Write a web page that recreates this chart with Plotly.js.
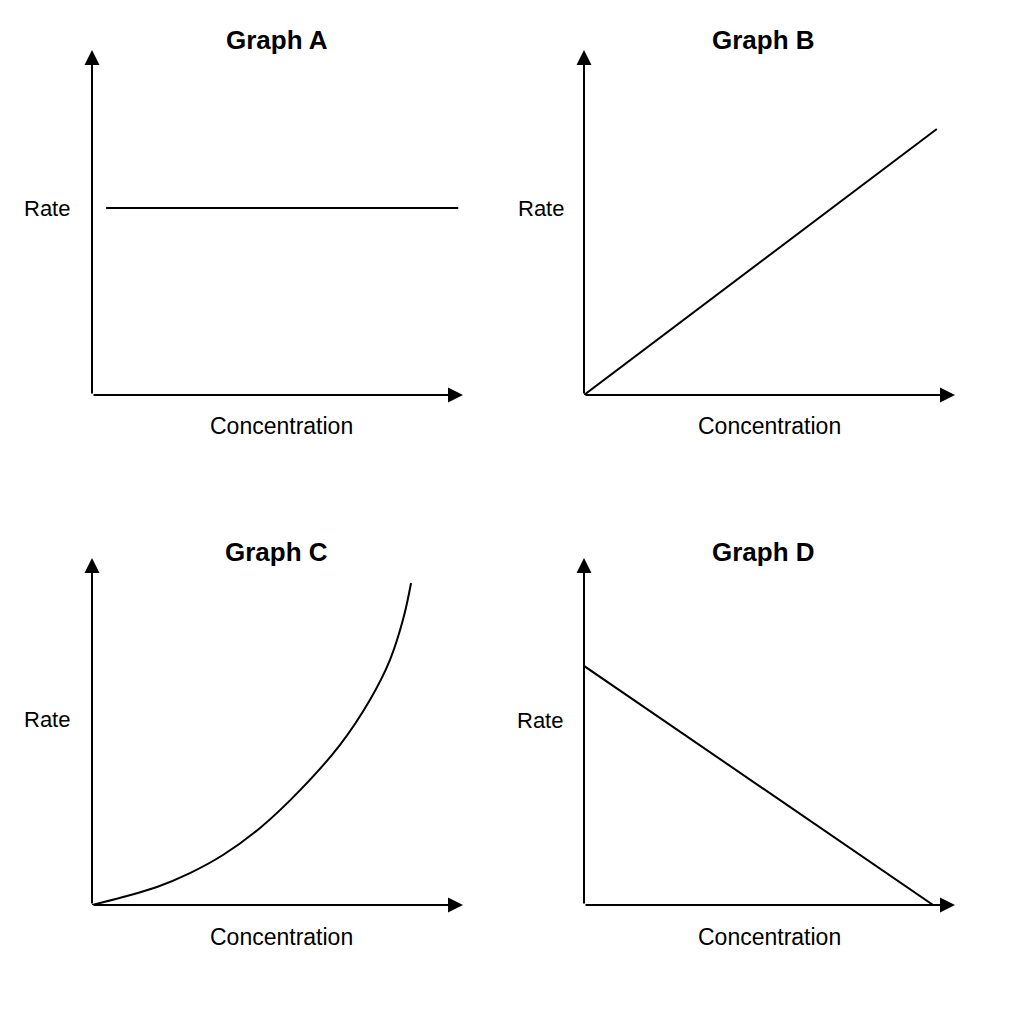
<!DOCTYPE html>
<html>
<head>
<meta charset="utf-8">
<script src="https://cdn.plot.ly/plotly-3.0.1.min.js"></script>
<style>
  html, body { margin: 0; padding: 0; background: #ffffff; }
  #chart { width: 1024px; height: 1024px; }
</style>
</head>
<body>
<div id="chart"></div>
<script>
// values, axes run 0..100 from origin to arrow tip
var panelNames = ['Graph A', 'Graph B', 'Graph C', 'Graph D'];
var xLabel = 'Concentration';
var yLabel = 'Rate';

var graphA_x = [3.8, 98.7];
var graphA_y = [54.2, 54.2];

var graphB_x = [0, 95.1];
var graphB_y = [0, 77.1];

var graphC_x = [0, 8.4, 17.5, 26.4, 35.3, 45.3, 56.1, 66.8, 74.9, 80.3, 83.8, 86.0];
var graphC_y = [0, 2.3, 5.2, 9.2, 14.4, 22.2, 33.1, 46.1, 59.1, 70.6, 82.1, 92.8];

var graphD_x = [0, 94.1];
var graphD_y = [68.9, 0];

var lineStyle = { color: '#000000', width: 2 };

var traces = [
    { x: graphA_x, y: graphA_y, xaxis: 'x', yaxis: 'y', mode: 'lines', line: lineStyle },
    { x: graphB_x, y: graphB_y, xaxis: 'x2', yaxis: 'y2', mode: 'lines', line: lineStyle },
    { x: graphC_x, y: graphC_y, xaxis: 'x3', yaxis: 'y3', mode: 'lines',
      line: { color: '#000000', width: 2, shape: 'spline', smoothing: 1.1 } },
    { x: graphD_x, y: graphD_y, xaxis: 'x4', yaxis: 'y4', mode: 'lines', line: lineStyle }
];

function hiddenAxis(domain, anchor) {
    return {
        domain: domain,
        anchor: anchor,
        range: [0, 100],
        visible: false,
        showgrid: false,
        zeroline: false,
        fixedrange: true
    }
}

// origin and arrow tips, in page pixels
var leftCol = [92, 463], rightCol = [584, 955];
var topRow = [395, 50], bottomRow = [905, 558];

function xdom(p) { return [p[0] / 1024, p[1] / 1024] }
function ydom(p) { return [1 - p[0] / 1024, 1 - p[1] / 1024] }

var annotations = [];

// axis arrows
var axisIds = ['', '2', '3', '4'];
axisIds.forEach(function (id) {
    var xr = 'x' + id, yr = 'y' + id;
    annotations.push({
        x: 100, y: 0, ax: 0, ay: 0, xref: xr, yref: yr, axref: xr, ayref: yr,
        text: '', showarrow: true, arrowhead: 2, arrowsize: 1.5, arrowwidth: 2,
        arrowcolor: '#000000', standoff: 0, startstandoff: 0
    });
    annotations.push({
        x: 0, y: 100, ax: 0, ay: 0, xref: xr, yref: yr, axref: xr, ayref: yr,
        text: '', showarrow: true, arrowhead: 2, arrowsize: 1.5, arrowwidth: 2,
        arrowcolor: '#000000', standoff: 0, startstandoff: 0
    });
});

// titles and labels (pixel centres)
var titleSpots = [[277, 40], [763, 40], [276, 552], [763, 552]];
var rateSpots = [[47, 208], [541, 208], [47, 719], [540, 720]];
var concSpots = [[281, 426], [769, 426], [281, 937], [769, 937]];

function textAt(txt, p, size, bold) {
    return {
        text: bold ? '<b>' + txt + '</b>' : txt,
        x: p[0] / 1024, y: 1 - p[1] / 1024,
        xref: 'paper', yref: 'paper',
        xanchor: 'center', yanchor: 'middle',
        showarrow: false,
        font: { family: 'Liberation Sans, Arial, sans-serif', size: size, color: '#000000' }
    }
}

for (var i = 0; i < 4; i++) {
    annotations.push(textAt(panelNames[i], titleSpots[i], 26, true));
    annotations.push(textAt(yLabel, rateSpots[i], 22, false));
    annotations.push(textAt(xLabel, concSpots[i], 23, false));
}

var layout = {
    width: 1024,
    height: 1024,
    margin: { l: 0, r: 0, t: 0, b: 0 },
    paper_bgcolor: '#ffffff',
    plot_bgcolor: 'rgba(0,0,0,0)',
    showlegend: false,
    xaxis: hiddenAxis(xdom(leftCol), 'y'),
    yaxis: hiddenAxis(ydom(topRow), 'x'),
    xaxis2: hiddenAxis(xdom(rightCol), 'y2'),
    yaxis2: hiddenAxis(ydom(topRow), 'x2'),
    xaxis3: hiddenAxis(xdom(leftCol), 'y3'),
    yaxis3: hiddenAxis(ydom(bottomRow), 'x3'),
    xaxis4: hiddenAxis(xdom(rightCol), 'y4'),
    yaxis4: hiddenAxis(ydom(bottomRow), 'x4'),
    annotations: annotations
}

Plotly.newPlot('chart', traces, layout, { staticPlot: true, displayModeBar: false })
</script>
</body>
</html>
